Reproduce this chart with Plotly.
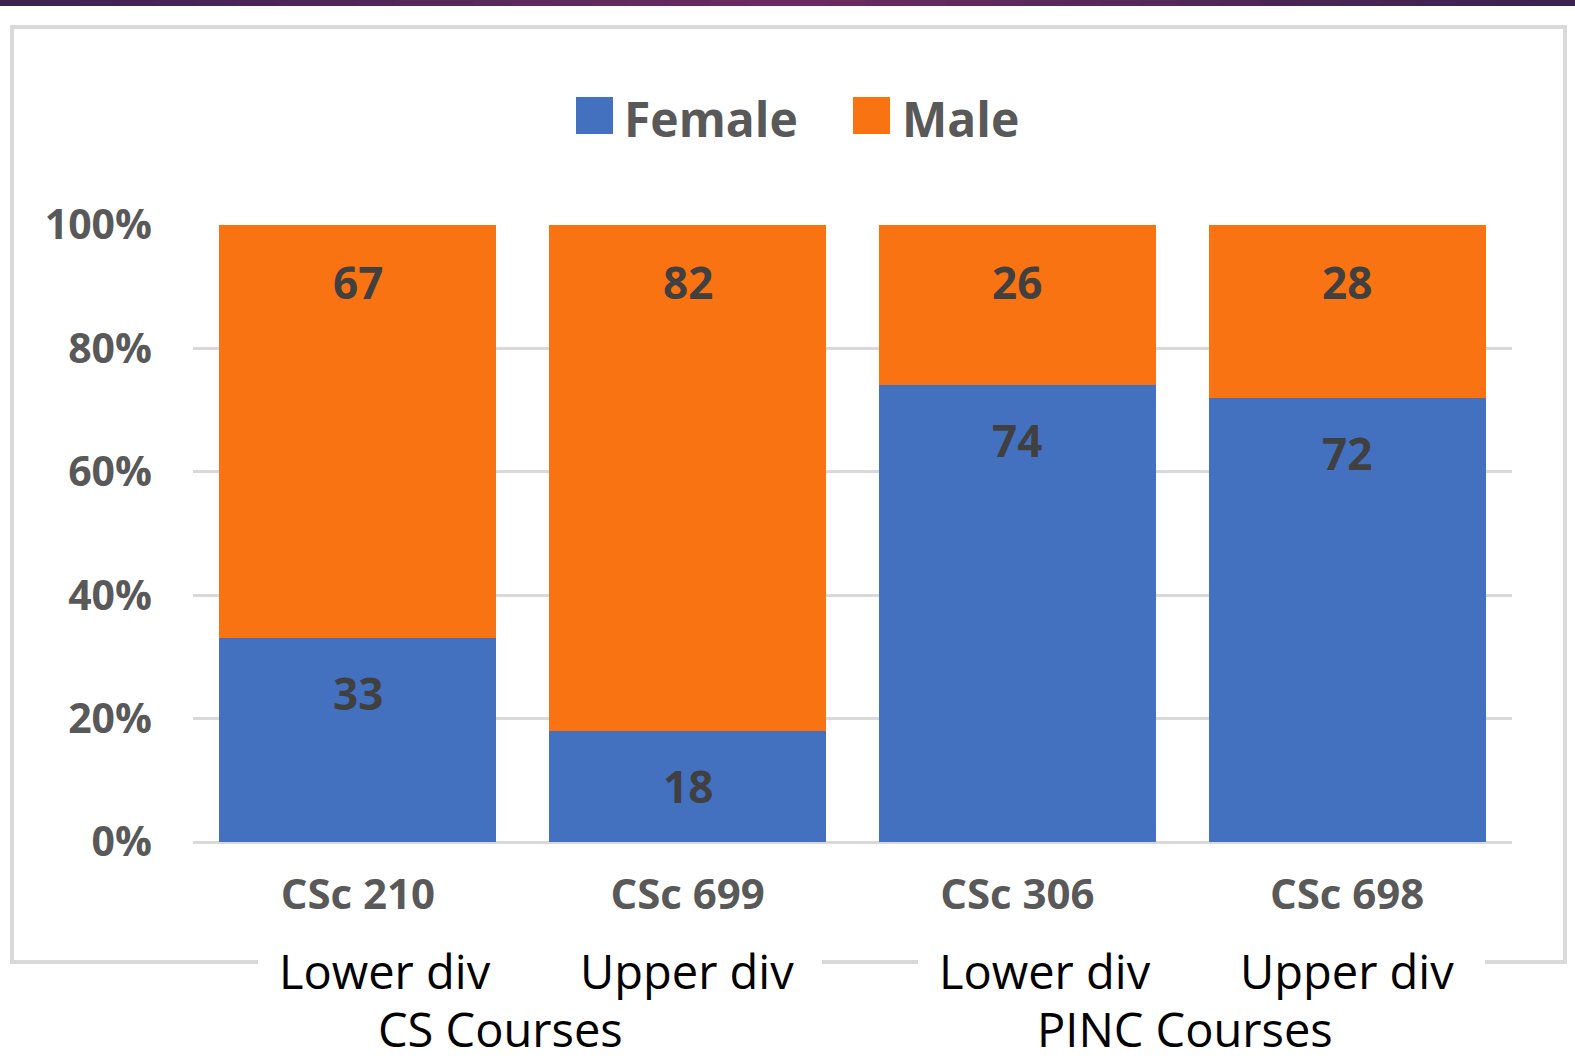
import plotly.graph_objects as go

# ---- data ----
courses = ["CSc 210", "CSc 699", "CSc 306", "CSc 698"]
female = [33, 18, 74, 72]
male = [67, 82, 26, 28]
series_names = ["Female", "Male"]
y_ticks = [0, 20, 40, 60, 80, 100]
y_tick_labels = ["0%", "20%", "40%", "60%", "80%", "100%"]
div_labels = ["Lower div", "Upper div", "Lower div", "Upper div"]
group_labels = ["CS Courses", "PINC Courses"]

BLUE = "#4470c0"
ORANGE = "#f97313"
GRAY = "#595959"

W_, H_ = 1575, 1060
L, R, T, B = 193, 1512, 225, 842
PW, PH = R - L, B - T


def px(x):
    return (x - L) / PW


def py(y):
    return (B - y) / PH


fig = go.Figure()
fig.add_trace(go.Bar(x=courses, y=female, name=series_names[0], marker=dict(color=BLUE, line=dict(width=0))))
fig.add_trace(go.Bar(x=courses, y=male, name=series_names[1], marker=dict(color=ORANGE, line=dict(width=0))))

lab_font = dict(family="Open Sans", size=44, color="#404040", weight="bold")
annotations = []
for c, f, m in zip(courses, female, male):
    annotations.append(dict(x=c, y=f, xref="x", yref="y", text=str(f), showarrow=False,
                            yshift=-55, yanchor="middle", font=lab_font))
    annotations.append(dict(x=c, y=f + m, xref="x", yref="y", text=str(m), showarrow=False,
                            yshift=-57, yanchor="middle", font=lab_font))

leg_font = dict(family="Open Sans", size=48, color=GRAY, weight="bold")
shapes = []
# purple top bar gradient
stops = [(0.0, (0x3d, 0x22, 0x52)), (0.5, (0x6b, 0x2c, 0x64)), (1.0, (0x3a, 0x22, 0x50))]
N = 40
for i in range(N):
    t = (i + 0.5) / N
    if t <= 0.5:
        a, b, u = stops[0][1], stops[1][1], t / 0.5
    else:
        a, b, u = stops[1][1], stops[2][1], (t - 0.5) / 0.5
    col = "rgb(%d,%d,%d)" % tuple(int(a[k] + (b[k] - a[k]) * u) for k in range(3))
    shapes.append(dict(type="rect", xref="paper", yref="paper",
                       x0=px(W_ * i / N), x1=px(W_ * (i + 1) / N) + 0.001,
                       y0=py(6), y1=py(0), fillcolor=col, line=dict(width=0), layer="above"))

# chart border box
shapes.append(dict(type="rect", xref="paper", yref="paper", x0=px(12), x1=px(1565), y0=py(962), y1=py(27),
                   line=dict(color="#d9d9d9", width=4), fillcolor="rgba(0,0,0,0)", layer="below"))
# white gaps behind the lower labels
for x0, x1 in [(258, 822), (918, 1485)]:
    shapes.append(dict(type="rect", xref="paper", yref="paper", x0=px(x0), x1=px(x1), y0=py(975), y1=py(950),
                       fillcolor="white", line=dict(width=0), layer="above"))

# legend squares + texts
for name, col, sx, tx in [(series_names[0], BLUE, 576, 622), (series_names[1], ORANGE, 853, 900)]:
    shapes.append(dict(type="rect", xref="paper", yref="paper", x0=px(sx), x1=px(sx + 37),
                       y0=py(134), y1=py(97), fillcolor=col, line=dict(width=0), layer="above"))
    annotations.append(dict(x=px(tx), y=py(118), xref="paper", yref="paper", text=name, showarrow=False,
                            xanchor="left", yanchor="middle", font=leg_font))

low_font = dict(family="Open Sans", size=47, color="black")
for lab, cx in zip(div_labels, [385, 687, 1045, 1347]):
    annotations.append(dict(x=px(cx), y=py(971), xref="paper", yref="paper", text=lab, showarrow=False,
                            xanchor="center", yanchor="middle", font=low_font))
for lab, cx in zip(group_labels, [500, 1185]):
    annotations.append(dict(x=px(cx), y=py(1029), xref="paper", yref="paper", text=lab, showarrow=False,
                            xanchor="center", yanchor="middle", font=low_font))

fig.update_layout(
    width=W_, height=H_,
    margin=dict(l=L, r=W_ - R, t=T, b=H_ - B, autoexpand=False),
    barmode="stack", bargap=0.16,
    showlegend=False,
    plot_bgcolor="white", paper_bgcolor="white",
    shapes=shapes, annotations=annotations,
    xaxis=dict(showgrid=False, showline=False, zeroline=False, ticks="",
               tickfont=dict(family="Open Sans", size=42, color=GRAY, weight="bold"),
               ticklabelstandoff=24, range=[-0.5, 3.5]),
    yaxis=dict(range=[0, 100], tickvals=y_ticks, ticktext=y_tick_labels,
               showgrid=True, gridcolor="#d9d9d9", gridwidth=3,
               zeroline=True, zerolinecolor="#d9d9d9", zerolinewidth=3,
               showline=False, ticks="",
               tickfont=dict(family="Open Sans", size=41, color=GRAY, weight="bold"),
               ticklabelstandoff=40),
)

fig.write_html("out.html", config={"displayModeBar": False},
               post_script="document.body.style.margin='0';document.body.style.overflow='hidden';")
